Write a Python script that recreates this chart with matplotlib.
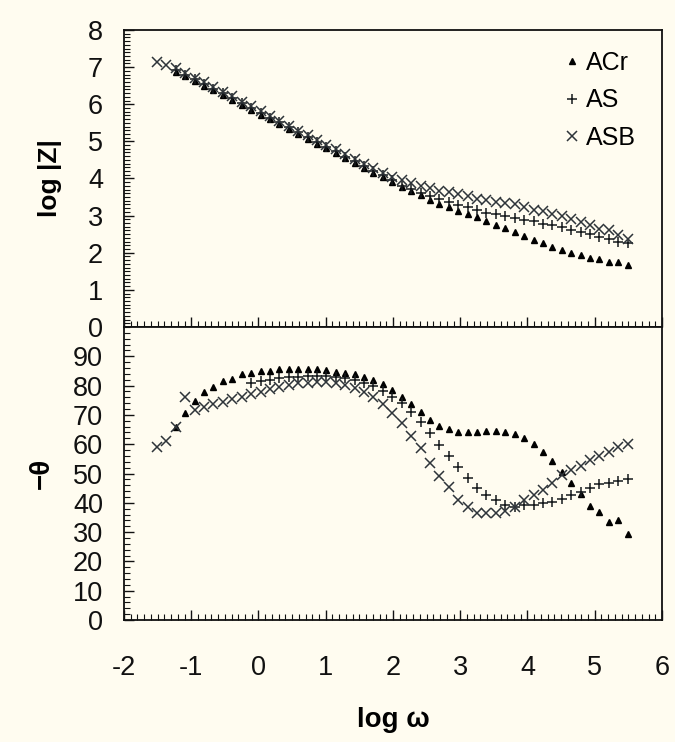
import matplotlib
matplotlib.use("Agg")
import matplotlib.pyplot as plt
from matplotlib.ticker import MultipleLocator

plt.rcParams['font.family'] = ['Liberation Sans', 'DejaVu Sans']
plt.rcParams['axes.unicode_minus'] = False

# log(omega) grid (shared frequency points)
log_w = [-1.51, -1.37, -1.23, -1.09, -0.95, -0.81, -0.67, -0.53, -0.39, -0.25,
         -0.11, 0.03, 0.17, 0.31, 0.45, 0.59, 0.73, 0.87, 1.01, 1.15,
         1.29, 1.43, 1.57, 1.71, 1.85, 1.99, 2.13, 2.27, 2.41, 2.55,
         2.69, 2.83, 2.97, 3.11, 3.25, 3.39, 3.53, 3.67, 3.81, 3.95,
         4.09, 4.23, 4.37, 4.51, 4.65, 4.79, 4.93, 5.07, 5.21, 5.35, 5.49]

# ---- log|Z| ----
acr_logz = [6.88, 6.76, 6.63, 6.50, 6.38, 6.24, 6.12, 5.98, 5.85, 5.72,
            5.60, 5.46, 5.33, 5.20, 5.07, 4.94, 4.81, 4.69, 4.54, 4.41,
            4.29, 4.16, 4.04, 3.91, 3.77, 3.66, 3.55, 3.43, 3.32, 3.23,
            3.12, 3.05, 2.96, 2.85, 2.74, 2.67, 2.56, 2.44, 2.35, 2.26,
            2.15, 2.08, 2.00, 1.93, 1.86, 1.82, 1.75, 1.75, 1.66]
as_logz = [6.93, 6.80, 6.68, 6.55, 6.42, 6.29, 6.16, 6.03, 5.90, 5.77,
           5.64, 5.51, 5.38, 5.25, 5.12, 4.99, 4.86, 4.74, 4.59, 4.46,
           4.34, 4.21, 4.09, 3.96, 3.81, 3.72, 3.62, 3.52, 3.44, 3.36,
           3.28, 3.22, 3.15, 3.08, 3.04, 2.98, 2.93, 2.88, 2.85, 2.78,
           2.74, 2.68, 2.62, 2.55, 2.50, 2.43, 2.38, 2.30, 2.27]
asb_logz = [7.14, 7.06, 6.97, 6.85, 6.72, 6.59, 6.47, 6.33, 6.21, 6.07,
            5.94, 5.81, 5.69, 5.55, 5.42, 5.29, 5.16, 5.03, 4.91, 4.79,
            4.65, 4.52, 4.40, 4.28, 4.16, 4.05, 3.95, 3.88, 3.80, 3.74,
            3.67, 3.63, 3.59, 3.52, 3.46, 3.41, 3.37, 3.34, 3.30, 3.22,
            3.16, 3.12, 3.05, 2.99, 2.92, 2.83, 2.74, 2.65, 2.60, 2.47, 2.38]

# ---- -theta ----
acr_theta = [65.8, 70.8, 74.7, 77.7, 79.6, 81.6, 82.2, 84.1, 84.4, 85.0,
             85.0, 85.5, 85.5, 85.5, 85.5, 85.5, 85.3, 84.8, 84.4, 83.8,
             82.9, 81.8, 80.4, 78.5, 76.2, 73.7, 71.1, 68.3, 66.2, 65.1,
             64.0, 64.0, 64.0, 64.6, 64.6, 64.3, 63.4, 62.2, 60.0, 57.2,
             54.3, 50.6, 46.6, 42.9, 38.9, 36.8, 33.6, 34.0, 29.2]
as_theta = [81.0, 81.5, 82.0, 82.5, 82.8, 83.0, 83.2, 83.3, 83.2, 83.0,
            82.6, 82.0, 81.0, 79.8, 78.2, 76.2, 74.0, 71.1, 67.7, 63.7,
            59.7, 56.0, 52.1, 48.6, 45.2, 42.8, 41.0, 39.4, 38.7, 39.2,
            39.2, 39.8, 40.4, 41.2, 42.7, 43.8, 44.9, 46.4, 46.9, 47.5, 48.1]
asb_theta = [59.0, 61.0, 65.8, 76.2, 71.7, 72.8, 73.7, 74.5, 75.3, 76.2,
             77.1, 77.9, 78.7, 79.6, 80.2, 80.8, 81.0, 81.3, 81.3, 81.0,
             80.3, 79.3, 77.9, 76.0, 73.7, 70.8, 67.3, 62.8, 58.6, 53.7,
             49.1, 45.5, 41.0, 38.7, 36.6, 36.4, 36.4, 37.3, 38.7, 41.0,
             42.7, 44.4, 46.7, 49.5, 51.2, 52.6, 54.6, 56.0, 57.4, 58.9, 60.1]

series_names = ["ACr", "AS", "ASB"]
x_ticks = [-2, -1, 0, 1, 2, 3, 4, 5, 6]

acr_x = log_w[2:]
as_x_top = log_w[2:]
as_x_bot = log_w[10:]
asb_x = log_w

bg = '#FFFCF0'
fig = plt.figure(figsize=(6.75, 7.42), dpi=100, facecolor=bg)
ax1 = fig.add_axes([0.1837, 0.5593, 0.797, 0.4003], facecolor=bg)
ax2 = fig.add_axes([0.1837, 0.1644, 0.797, 0.3949], facecolor=bg)

tri_kw = dict(linestyle='none', marker='^', color='#000000', markersize=5)
plus_kw = dict(linestyle='none', marker='+', color='#15191c', markersize=7, markeredgewidth=1.1)
x_kw = dict(linestyle='none', marker='x', color='#2e3439', markersize=6.5, markeredgewidth=1.1)

ax1.plot(acr_x, acr_logz, label=series_names[0], **tri_kw)
ax1.plot(as_x_top, as_logz, label=series_names[1], **plus_kw)
ax1.plot(asb_x, asb_logz, label=series_names[2], **x_kw)

ax2.plot(acr_x, acr_theta, **tri_kw)
ax2.plot(as_x_bot, as_theta, **plus_kw)
ax2.plot(asb_x, asb_theta, **x_kw)

for ax in (ax1, ax2):
    ax.set_xlim(-2, 6)
    ax.set_xticks(x_ticks)
    ax.xaxis.set_minor_locator(MultipleLocator(0.1))
    ax.tick_params(which='both', direction='in', top=False, right=False,
                   labelsize=19.5, colors='#111111')
    ax.tick_params(which='major', length=7, width=1.0)
    ax.tick_params(which='minor', length=4, width=0.8)
    ax.tick_params(axis='y', pad=15)
    ax.tick_params(axis='x', pad=25)
    for s in ax.spines.values():
        s.set_linewidth(1.3)
        s.set_color('#111111')

ax1.set_ylim(0, 8)
ax1.set_yticks(range(0, 9))
ax1.yaxis.set_minor_locator(MultipleLocator(0.1))
ax1.tick_params(axis='x', labelbottom=False)

ax2.set_ylim(0, 100)
ax2.set_yticks(range(0, 100, 10))
ax2.yaxis.set_minor_locator(MultipleLocator(2))

ax1.set_ylabel("log |Z|", fontsize=19, fontweight='bold')
ax2.set_ylabel("\u2212\u03b8", fontsize=20, fontweight='bold')
ax2.set_xlabel("log \u03c9", fontsize=20, fontweight='bold', labelpad=19)
ax1.yaxis.set_label_coords(-0.115, 0.5)
ax2.yaxis.set_label_coords(-0.128, 0.5)

leg = ax1.legend(loc='upper left', bbox_to_anchor=(0.787, 0.989), frameon=False,
                 fontsize=18, handlelength=0.6, handletextpad=0.25,
                 labelspacing=0.55, borderpad=0.2)

fig.savefig("out.png", dpi=100, facecolor=bg)
